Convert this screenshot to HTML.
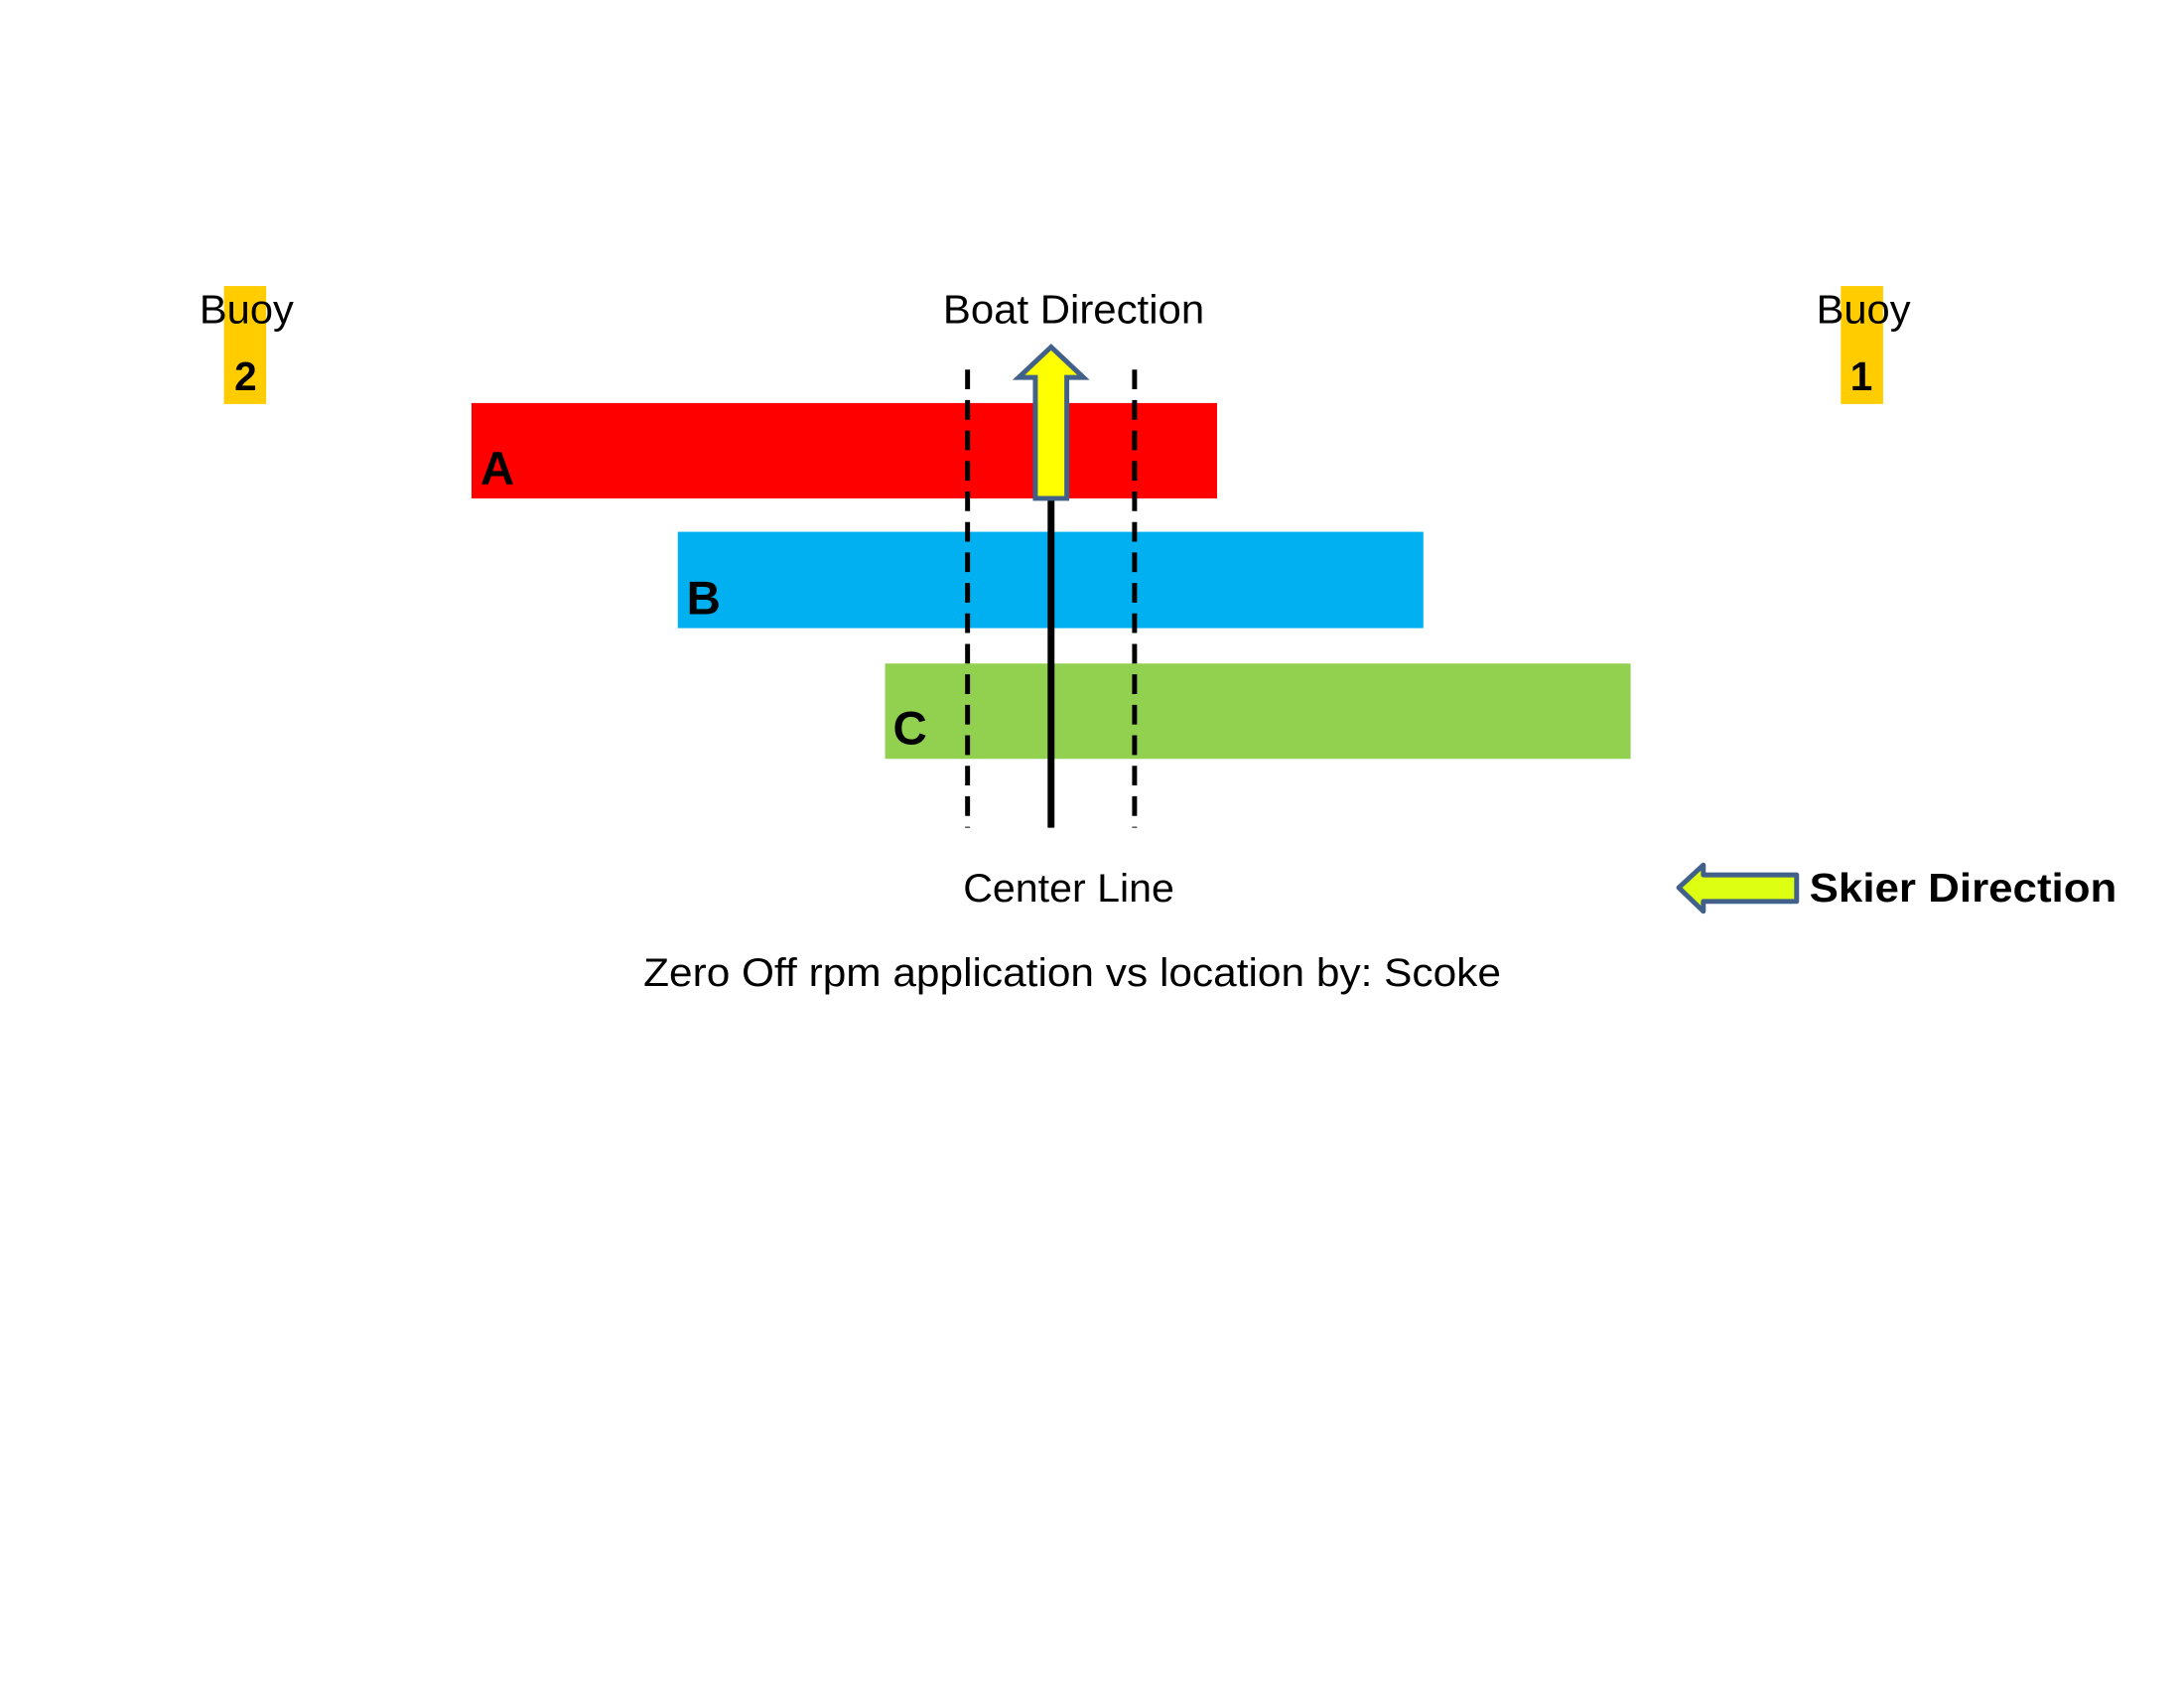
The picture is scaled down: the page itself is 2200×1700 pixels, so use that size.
<!DOCTYPE html>
<html><head><meta charset="utf-8"><style>html,body{margin:0;padding:0;background:#fff}svg{display:block}</style></head>
<body>
<svg width="2200" height="1700" viewBox="0 0 2200 1700" xmlns="http://www.w3.org/2000/svg" font-family="Liberation Sans, Arial, sans-serif">
<rect width="2200" height="1700" fill="#fff"/>
<g transform="scale(0.9895,0.99)">
<!-- buoys -->
<rect x="228" y="291" width="43" height="120" fill="#ffcc00"/>
<rect x="1874" y="291" width="43" height="120" fill="#ffcc00"/>
<text x="251" y="329" font-size="41" text-anchor="middle" textLength="96" lengthAdjust="spacingAndGlyphs">Buoy</text>
<text x="1897" y="329" font-size="41" text-anchor="middle" textLength="96" lengthAdjust="spacingAndGlyphs">Buoy</text>
<text x="250" y="397" font-size="41" font-weight="bold" text-anchor="middle">2</text>
<text x="1895" y="397" font-size="41" font-weight="bold" text-anchor="middle">1</text>
<!-- bars -->
<rect x="480" y="410" width="759" height="97" fill="#ff0000"/>
<rect x="690" y="541" width="759" height="98" fill="#00b0f0"/>
<rect x="901" y="675" width="759" height="97" fill="#92d050"/>
<text x="489" y="493" font-size="48" font-weight="bold">A</text>
<text x="699" y="625" font-size="48" font-weight="bold">B</text>
<text x="909" y="757" font-size="48" font-weight="bold">C</text>
<!-- dashed lines -->
<line x1="985" y1="376" x2="985" y2="842" stroke="#000" stroke-width="5" stroke-dasharray="20,11"/>
<line x1="1155" y1="376" x2="1155" y2="842" stroke="#000" stroke-width="5" stroke-dasharray="20,11"/>
<!-- center line -->
<line x1="1070" y1="505" x2="1070" y2="842" stroke="#000" stroke-width="7"/>
<!-- boat arrow -->
<polygon points="1070,353 1103,384 1086,384 1086,507 1054,507 1054,384 1037,384" fill="#ffff00" stroke="#41618a" stroke-width="5"/>
<text x="1093" y="329" font-size="41" text-anchor="middle" textLength="266" lengthAdjust="spacingAndGlyphs">Boat Direction</text>
<text x="1088" y="917" font-size="40" text-anchor="middle" textLength="215" lengthAdjust="spacingAndGlyphs">Center Line</text>
<!-- skier arrow -->
<polygon points="1709,903 1734,880 1734,890 1829,890 1829,917 1734,917 1734,927" fill="#ddff11" stroke="#41618a" stroke-width="5" stroke-linejoin="round"/>
<text x="1842" y="917" font-size="41" font-weight="bold" textLength="313" lengthAdjust="spacingAndGlyphs">Skier Direction</text>
<text x="655" y="1003" font-size="40" textLength="873" lengthAdjust="spacingAndGlyphs">Zero Off rpm application vs location by: Scoke</text>
</g>
</svg>
</body></html>
